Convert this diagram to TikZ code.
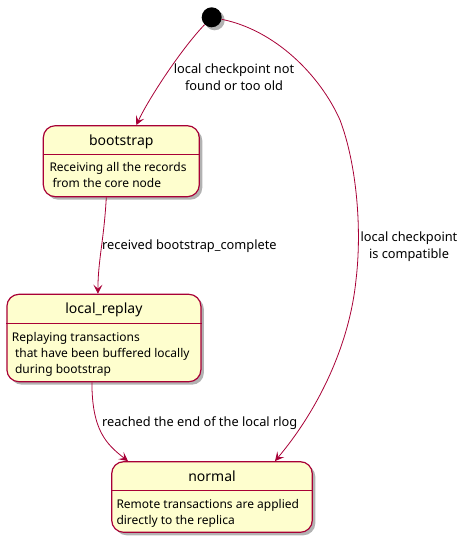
\documentclass[tikz,border=0pt]{standalone}
\usepackage{fontspec}
\setmainfont{Noto Sans}
\usetikzlibrary{arrows.meta,shadows}
\definecolor{pborder}{HTML}{A80036}
\definecolor{pfill}{HTML}{FEFECE}
\begin{document}
\begin{tikzpicture}[x=1pt,y=-1pt,
  shadowed/.style={drop shadow={shadow xshift=3pt,shadow yshift=-3pt,fill=black,opacity=0.3}},
  statebox/.style={draw=pborder,fill=pfill,line width=1.2pt,rounded corners=12pt,inner sep=0pt,shadowed},
  sep/.style={draw=pborder,line width=1.2pt},
  title/.style={font=\fontsize{14}{16}\selectfont,inner sep=0pt,anchor=base},
  body/.style={font=\fontsize{12}{16}\selectfont,inner sep=0pt,anchor=north west,align=left},
  lbl/.style={font=\fontsize{12.8}{17}\selectfont,inner sep=0pt,align=center},
  edge/.style={draw=pborder,line width=0.8pt,-{Stealth[length=9pt,width=9pt,inset=4pt]}}]
\useasboundingbox (0,0) rectangle (467,542);

% start
\node[circle,fill=black,minimum size=20pt,inner sep=0pt,shadowed] (start) at (211.7,17.3) {};

% bootstrap
\node[statebox,minimum width=156pt,minimum height=71pt] (boot) at (121.3,161.2) {};
\draw[sep] (boot.west |- 0,154.3) -- (boot.east |- 0,154.3);
\node[title] (bootT) at (121.3,145.5) {bootstrap};
\node[body] (bootB) at (49.3,162.4) {Receiving all the records\\\ from the core node};

% local_replay
\node[statebox,minimum width=194pt,minimum height=87.4pt] (lr) at (103.9,338) {};
\draw[sep] (lr.west |- 0,323.3) -- (lr.east |- 0,323.3);
\node[title] (lrT) at (103.9,313.7) {local\_replay};
\node[body] (lrB) at (11.7,332.6) {Replaying transactions\\\ that have been buffered locally\\\ during bootstrap};

% normal
\node[statebox,minimum width=200.6pt,minimum height=70.6pt] (normal) at (212,497) {};
\draw[sep] (normal.west |- 0,490.7) -- (normal.east |- 0,490.7);
\node[title] (normalT) at (212,481) {normal};
\node[body] (normalB) at (116.3,499.2) {Remote transactions are applied\\directly to the replica};

% edges
\draw[edge] (start) .. controls (182,48) and (149,98) .. ([xshift=15pt]boot.north);
\draw[edge] (start) .. controls (275,30) and (320,75) .. (340,120)
  .. controls (357,165) and (362,230) .. (356,280)
  .. controls (350,340) and (322,405) .. ([xshift=63pt]normal.north);
\draw[edge] ([xshift=-15pt]boot.south) .. controls (104,240) and (98,260) .. ([xshift=-6pt]lr.north);
\draw[edge] ([xshift=-12pt]lr.south) .. controls (92,430) and (106,444) .. ([xshift=-84pt]normal.north);

% labels
\node[lbl,anchor=north] (l1) at (234,64) {local checkpoint not\\found or too old};
\node[lbl,anchor=base west] (l2) at (102,249) {received bootstrap\_complete};
\node[lbl,anchor=north] (l3) at (409,232) {local checkpoint\\is compatible};
\node[lbl,anchor=base west] (l4) at (102,426.7) {reached the end of the local rlog};
\end{tikzpicture}
\end{document}
